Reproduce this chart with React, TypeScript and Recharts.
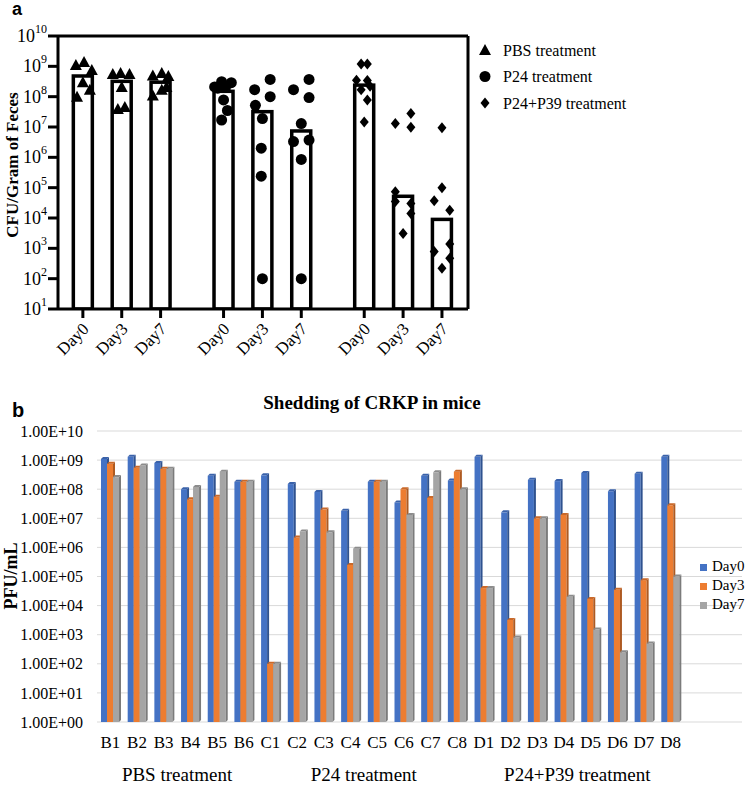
import React from 'react';
import { ComposedChart, BarChart, Bar, Scatter, XAxis, YAxis, CartesianGrid, ReferenceLine } from 'recharts';

const SERIF = "'Liberation Serif', 'Times New Roman', serif";
const SANS = "'Liberation Sans', Arial, sans-serif";
const serif = (size: number, bold = false) => ({ fontFamily: SERIF, fontSize: size, fontWeight: bold ? 700 : 400 });

// ---------- panel a: CFU per gram of feces ----------
const groupNames = ['PBS treatment', 'P24 treatment', 'P24+P39 treatment'];
const dayLabels = ['Day0', 'Day3', 'Day7'];

const pbsMeans = [4.8e8, 3.2e8, 3.0e8];
const p24Means = [1.5e8, 3.2e7, 7.4e6];
const p39Means = [2.4e8, 5.2e4, 9.0e3];

// individual mice, one row per day
const pbsPoints = [
  [1.1e9, 1.4e9, 7.5e8, 3.0e8, 1.0e8, 1.7e8],
  [5.6e8, 6.0e8, 5.6e8, 2.1e8, 3.9e7, 4.6e7],
  [5.0e8, 6.0e8, 4.8e8, 1.1e8, 1.7e8, 2.1e8],
];
const pbsJitter = [
  [-0.18, 0.03, 0.23, 0, -0.15, 0.18],
  [-0.23, -0.03, 0.2, 0, -0.1, 0.08],
  [-0.2, 0.03, 0.2, -0.2, 0.03, 0.15],
];
const p24Points = [
  [2.1e8, 3.1e8, 2.9e8, 2.0e8, 1.9e8, 7.8e7, 3.5e7, 1.7e7],
  [1.7e8, 3.7e8, 1.0e8, 5.2e7, 1.9e7, 2.0e6, 2.4e5, 100],
  [1.7e8, 3.7e8, 9.3e7, 1.3e7, 3.3e6, 3.7e6, 8.5e5, 100],
];
const p24Jitter = [
  [-0.23, -0.05, 0.2, 0.05, -0.15, 0, 0.1, -0.05],
  [-0.2, 0.2, 0.2, -0.18, 0, -0.03, -0.03, 0],
  [-0.2, 0.2, 0.2, 0, -0.2, 0.2, 0, 0],
];
const p39Points = [
  [1.2e9, 1.2e9, 3.5e8, 3.4e8, 1.7e8, 7.8e7, 1.45e7, 2.2e8],
  [1.3e7, 2.8e7, 9.8e6, 7.4e4, 3.5e4, 3.0e4, 1.4e4, 3.1e3],
  [9.5e6, 1.0e5, 3.7e4, 1.8e4, 7.8e2, 1.4e3, 4.7e2, 2.2e2],
];
const p39Jitter = [
  [-0.08, 0.08, -0.2, 0.08, -0.08, 0.08, 0, 0.15],
  [-0.2, 0.2, 0.2, -0.2, -0.2, 0.2, 0.2, 0],
  [0, 0, -0.2, 0.2, -0.2, 0.2, 0.2, 0],
];
const powerTicks = [10, 1e2, 1e3, 1e4, 1e5, 1e6, 1e7, 1e8, 1e9, 1e10];

// ---------- panel b: PFU/mL per mouse ----------
const mice = ['B1', 'B2', 'B3', 'B4', 'B5', 'B6', 'C1', 'C2', 'C3', 'C4', 'C5', 'C6', 'C7', 'C8', 'D1', 'D2', 'D3', 'D4', 'D5', 'D6', 'D7', 'D8'];
const day0 = [1.1e9, 1.3e9, 8e8, 1.0e8, 2.9e8, 1.8e8, 3.0e8, 1.5e8, 8e7, 1.8e7, 1.8e8, 3.5e7, 2.9e8, 2.0e8, 1.3e9, 1.6e7, 2.1e8, 1.9e8, 3.6e8, 8.5e7, 3.4e8, 1.3e9];
const day3 = [7.5e8, 5.5e8, 5e8, 4.5e7, 5.5e7, 1.8e8, 100, 2.2e6, 2e7, 2.5e5, 1.8e8, 1e8, 5e7, 4e8, 4e4, 3.2e3, 1e7, 1.3e7, 1.7e4, 3.5e4, 7.5e4, 2.8e7];
const day7 = [2.6e8, 6.5e8, 5e8, 1.2e8, 4e8, 1.8e8, 100, 3.5e6, 3.3e6, 9e5, 1.8e8, 1.3e7, 3.8e8, 1e8, 4e4, 800, 1e7, 2e4, 1.5e3, 250, 500, 1e5];
const groupSizes = [6, 8, 8];
const pfuTicks = [1, 10, 1e2, 1e3, 1e4, 1e5, 1e6, 1e7, 1e8, 1e9, 1e10];

const GROUP_STEP = 3.62;
const X_DOMAIN = [-0.64, 9.91];
const allMeans = [pbsMeans, p24Means, p39Means];
const allPoints = [pbsPoints, p24Points, p39Points];
const allJitter = [pbsJitter, p24Jitter, p39Jitter];

const barDataA = allMeans.flatMap((means, gi) =>
  means.map((m, di) => ({ x: gi * GROUP_STEP + di, mean: m, label: dayLabels[di] }))
);
const tickPositions = barDataA.map((d) => d.x);
const scatterData = allPoints.map((byDay, gi) =>
  byDay.flatMap((vals, di) =>
    vals.map((v, k) => ({ x: gi * GROUP_STEP + di + allJitter[gi][di][k], y: v }))
  )
);

const dataB = mice.map((name, i) => ({ name, day0: day0[i], day3: day3[i], day7: day7[i] }));
const groupMid: Record<number, string> = {};
{
  let start = 0;
  groupSizes.forEach((n, i) => {
    groupMid[start + n / 2 - 1] = groupNames[i];
    start += n;
  });
}

const Triangle = ({ cx, cy }: any) => (
  <polygon points={`${cx},${cy - 6} ${cx + 6},${cy + 5} ${cx - 6},${cy + 5}`} fill="#000" />
);
const Dot = ({ cx, cy }: any) => <circle cx={cx} cy={cy} r={5.5} fill="#000" />;
const Diamond = ({ cx, cy }: any) => (
  <polygon points={`${cx},${cy - 5.5} ${cx + 4.5},${cy} ${cx},${cy + 5.5} ${cx - 4.5},${cy}`} fill="#000" />
);
const shapes = [Triangle, Dot, Diamond];

// open bar, centred on the slot the library gives
const OpenBar = ({ x, y, width, height }: any) => {
  if (height == null || height <= 0) return null;
  const cx = x + width / 2;
  return <rect x={cx - 9.5} y={y} width={19} height={height} fill="#fff" stroke="#000" strokeWidth={3.5} />;
};

const PowerTick = ({ x, y, payload }: any) => {
  const exp = Math.round(Math.log10(payload.value));
  return (
    <text x={x} y={y + 6} textAnchor="end" style={serif(18)} fill="#000">
      10<tspan dy={-9} style={serif(12)}>{exp}</tspan>
    </text>
  );
};

const DayTick = ({ x, y, index }: any) => (
  <text transform={`translate(${x + 7},${y + 10}) rotate(-45)`} textAnchor="end" style={serif(17)} fill="#000">
    {barDataA[index] ? barDataA[index].label : ''}
  </text>
);

const MouseTick = ({ x, y, payload, index }: any) => {
  const half = payload && payload.offset != null ? payload.offset : 13.3;
  const g = groupMid[index];
  return (
    <g>
      <text x={x} y={y + 26} textAnchor="middle" style={serif(17)} fill="#000">
        {payload.value}
      </text>
      {g && (
        <text x={x + half} y={y + 59} textAnchor="middle" style={serif(19)} fill="#000">
          {g}
        </text>
      )}
    </g>
  );
};

const sciFormat = (v: number) => {
  const [m, e] = v.toExponential(2).split('e');
  const sign = e[0] === '-' ? '-' : '+';
  return `${m}E${sign}${e.replace(/^[+-]/, '').padStart(2, '0')}`;
};

const Bar3D = ({ x, y, width, height, fill, side, top }: any) => {
  if (!height || height <= 0) return null;
  const d = 2;
  return (
    <g>
      <rect x={x} y={y} width={width} height={height} fill={fill} />
      <polygon points={`${x + width},${y} ${x + width + d},${y - d} ${x + width + d},${y + height - d} ${x + width},${y + height}`} fill={side} />
      <polygon points={`${x},${y} ${x + d},${y - d} ${x + width + d},${y - d} ${x + width},${y}`} fill={top} />
    </g>
  );
};

const seriesB = [
  { key: 'day0', name: 'Day0', fill: '#4472C4', side: '#2F528F', top: '#3A62AA' },
  { key: 'day3', name: 'Day3', fill: '#ED7D31', side: '#AE5A21', top: '#C9692A' },
  { key: 'day7', name: 'Day7', fill: '#A5A5A5', side: '#7B7B7B', top: '#8C8C8C' },
];

const axisStroke = { stroke: '#000', strokeWidth: 3 };

export default function App() {
  return (
    <div style={{ position: 'absolute', left: 0, top: 0, width: 747, height: 786, background: '#fff' }}>
      <div style={{ position: 'absolute', left: 0, top: 0 }}>
        <ComposedChart width={747} height={380} data={barDataA} margin={{ top: 36, right: 279, bottom: 11, left: 0 }}>
          <XAxis
            dataKey="x"
            type="number"
            domain={X_DOMAIN}
            allowDataOverflow
            ticks={tickPositions}
            interval={0}
            tick={<DayTick />}
            tickSize={9}
            tickMargin={2}
            axisLine={axisStroke}
            tickLine={axisStroke}
            height={60}
          />
          <YAxis
            type="number"
            scale="log"
            domain={[10, 1e10]}
            allowDataOverflow
            ticks={powerTicks}
            interval={0}
            tick={<PowerTick />}
            tickSize={10}
            tickMargin={1}
            axisLine={axisStroke}
            tickLine={axisStroke}
            width={58}
          />
          <ReferenceLine y={1e10} stroke="#000" strokeWidth={3} />
          <ReferenceLine x={X_DOMAIN[1]} stroke="#000" strokeWidth={3} />
          <Bar dataKey="mean" barSize={19} shape={<OpenBar />} isAnimationActive={false} />
          {scatterData.map((pts, gi) => (
            <Scatter key={gi} name={groupNames[gi]} data={pts} dataKey="y" shape={shapes[gi]} isAnimationActive={false} />
          ))}
        </ComposedChart>
      </div>

      <div style={{ position: 'absolute', left: 0, top: 380 }}>
        <BarChart width={747} height={406} data={dataB} margin={{ top: 51, right: 5, bottom: 4, left: 0 }} barCategoryGap={4} barGap={0}>
          <CartesianGrid vertical={false} stroke="#D9D9D9" />
          <XAxis
            dataKey="name"
            interval={0}
            tick={<MouseTick />}
            tickSize={0}
            tickMargin={0}
            axisLine={false}
            tickLine={false}
            padding={{ left: 0, right: 58 }}
            height={60}
          />
          <YAxis
            type="number"
            scale="log"
            domain={[1, 1e10]}
            allowDataOverflow
            ticks={pfuTicks}
            interval={0}
            tickFormatter={sciFormat}
            tick={{ fill: '#000', style: serif(16) }}
            tickSize={0}
            tickMargin={14}
            axisLine={false}
            tickLine={false}
            width={97}
          />
          {seriesB.map((s) => (
            <Bar
              key={s.key}
              dataKey={s.key}
              name={s.name}
              fill={s.fill}
              isAnimationActive={false}
              shape={(p: any) => <Bar3D {...p} side={s.side} top={s.top} />}
            />
          ))}
        </BarChart>
      </div>

      <svg width={747} height={786} style={{ position: 'absolute', left: 0, top: 0, pointerEvents: 'none' }}>
        <text x={12} y={15} style={{ fontFamily: SANS, fontWeight: 700, fontSize: 18 }}>a</text>
        <text transform="translate(18,165) rotate(-90)" textAnchor="middle" style={serif(17, true)}>
          CFU/Gram of Feces
        </text>
        {groupNames.map((g, i) => {
          const Shape = shapes[i];
          const cy = 50 + i * 26.5;
          return (
            <g key={g}>
              <Shape cx={485} cy={cy} />
              <text x={503} y={cy + 5.5} style={serif(16)}>{g}</text>
            </g>
          );
        })}

        <text x={12} y={417} style={{ fontFamily: SANS, fontWeight: 700, fontSize: 20 }}>b</text>
        <text x={372} y={409} textAnchor="middle" style={serif(19, true)}>
          Shedding of CRKP in mice
        </text>
        <text transform="translate(17,576) rotate(-90)" textAnchor="middle" style={serif(18, true)}>
          PFU/mL
        </text>
        {seriesB.map((s, i) => (
          <g key={s.key}>
            <rect x={700} y={564 + i * 19} width={7} height={7} fill={s.fill} />
            <text x={712} y={571 + i * 19} style={serif(15)}>{s.name}</text>
          </g>
        ))}
      </svg>
    </div>
  );
}
